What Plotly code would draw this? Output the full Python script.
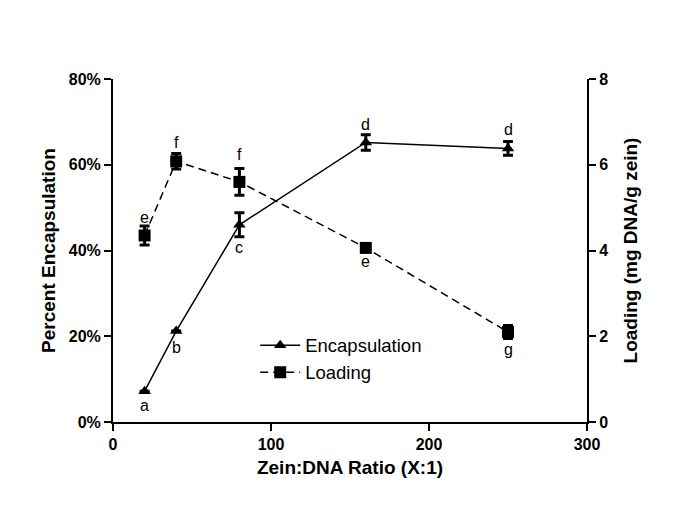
import plotly.graph_objects as go

ratio = [20, 40, 80, 160, 250]
encap = [7.2, 21.2, 46.0, 65.2, 63.8]
encap_err = [0, 0, 2.8, 1.8, 1.6]
encap_letters = ["a", "b", "c", "d", "d"]
loading = [4.35, 6.08, 5.6, 4.06, 2.1]
loading_err = [0.22, 0.18, 0.31, 0, 0.15]
loading_letters = ["e", "f", "f", "e", "g"]
y1_ticks = [0, 20, 40, 60, 80]
y1_ticktext = ["0%", "20%", "40%", "60%", "80%"]
y2_ticks = [0, 2, 4, 6, 8]
x_ticks = [0, 100, 200, 300]

# letter offsets in pixels (placement only)
encap_shift = [-14, -16, -23, 18, 19]
loading_shift = [18, 19, 27, -14, -18]

FONT = "Liberation Sans, Arial, sans-serif"

fig = go.Figure()
fig.add_trace(go.Scatter(
    x=ratio, y=encap, name="Encapsulation", mode="lines+markers",
    line=dict(color="black", width=1.5),
    marker=dict(symbol="triangle-up", size=11, color="black"),
    error_y=dict(type="data", array=encap_err, color="black", thickness=3, width=5),
    yaxis="y"))
fig.add_trace(go.Scatter(
    x=ratio, y=loading, name="Loading", mode="lines+markers",
    line=dict(color="black", width=1.5, dash="8px,5px"),
    marker=dict(symbol="square", size=12, color="black"),
    error_y=dict(type="data", array=loading_err, color="black", thickness=3, width=5),
    yaxis="y2"))

for xv, yv, lab, sh in zip(ratio, encap, encap_letters, encap_shift):
    fig.add_annotation(x=xv, y=yv, xref="x", yref="y", text=lab, showarrow=False,
                       yshift=sh, font=dict(family=FONT, size=16, color="black"))
for xv, yv, lab, sh in zip(ratio, loading, loading_letters, loading_shift):
    fig.add_annotation(x=xv, y=yv, xref="x", yref="y2", text=lab, showarrow=False,
                       yshift=sh, font=dict(family=FONT, size=16, color="black"))

axis_common = dict(showline=True, linecolor="black", linewidth=2, ticks="outside",
                   ticklen=7, tickwidth=2, tickcolor="black", showgrid=False, zeroline=False,
                   tickfont=dict(family=FONT, size=16, color="black", weight="bold"))

fig.update_layout(
    width=677, height=513,
    margin=dict(l=105, r=98, t=71, b=99),
    paper_bgcolor="white", plot_bgcolor="white",
    font=dict(family=FONT, color="black"),
    showlegend=True,
    legend=dict(x=0.3, y=0.278, xanchor="left", yanchor="top",
                bgcolor="rgba(0,0,0,0)", font=dict(family=FONT, size=18.5, color="black"),
                tracegroupgap=2, itemwidth=40),
    xaxis=dict(range=[0, 300], tickmode="array", tickvals=x_ticks,
               title=dict(text="<b>Zein:DNA Ratio (X:1)</b>", font=dict(family=FONT, size=19), standoff=8),
               **axis_common),
    yaxis=dict(range=[0, 80], tickmode="array", tickvals=y1_ticks, ticktext=y1_ticktext,
               title=dict(text="<b>Percent Encapsulation</b>", font=dict(family=FONT, size=19), standoff=8),
               **axis_common),
    yaxis2=dict(range=[0, 8], tickmode="array", tickvals=y2_ticks, overlaying="y", side="right",
                title=dict(text="<b>Loading (mg DNA/g zein)</b>", font=dict(family=FONT, size=19), standoff=16),
                **axis_common),
)

fig.write_html("out.html")
